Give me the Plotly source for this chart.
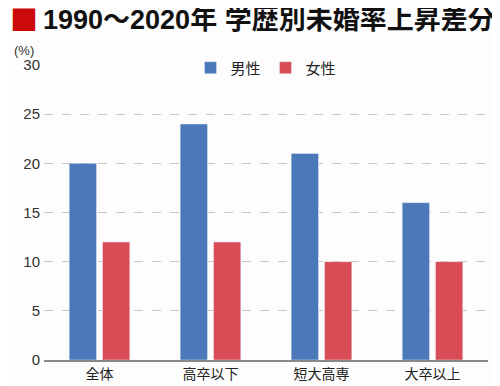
import plotly.graph_objects as go

categories = ["全体", "高卒以下", "短大高専", "大卒以上"]
male = [20, 24, 21, 16]
female = [12, 12, 10, 10]
yticks = [0, 5, 10, 15, 20, 25, 30]

bg = "#fdfdfd"
font = "Liberation Sans, Noto Sans CJK JP"

fig = go.Figure()
fig.add_trace(go.Bar(x=categories, y=male, name="男性", marker_color="#4a78b8"))
fig.add_trace(go.Bar(x=categories, y=female, name="女性", marker_color="#d94b55"))

fig.update_layout(
    width=492, height=378,
    paper_bgcolor=bg, plot_bgcolor=bg,
    margin=dict(l=36, r=12, t=57, b=26, autoexpand=False),
    font=dict(family=font, color="#222", size=13),
    bargap=0.4, bargroupgap=0.18,
    showlegend=True,
    legend=dict(orientation="h", x=0.5, xanchor="center", y=0.99, yanchor="middle",
                bgcolor=bg, font=dict(size=15, family=font, color="#222"),
                itemwidth=30, traceorder="normal"),
    xaxis=dict(showline=True, linecolor="#888", linewidth=1.5, ticks="",
               tickfont=dict(size=14, family=font, color="#222")),
    yaxis=dict(range=[0, 30], tickvals=yticks, showgrid=True, gridcolor="#c8c8c8",
               griddash="dash", gridwidth=1, zeroline=False, ticks="",
               tickfont=dict(size=15, family="Liberation Sans", color="#333"),
               ticklabelstandoff=3),
)

fig.add_annotation(
    text="■", xref="paper", yref="paper", x=-0.046, y=1.0, xanchor="center",
    yanchor="middle", yshift=46, showarrow=False,
    font=dict(size=28, family="Noto Sans CJK JP", color="#cc0a0a"))
fig.add_annotation(
    text="1990～2020年 学歴別未婚率上昇差分",
    xref="paper", yref="paper", x=-0.006, y=1.0, xanchor="left", yanchor="middle",
    yshift=45, showarrow=False,
    font=dict(size=27, family=font, color="#111", weight="bold"))
fig.add_annotation(
    text="(%)", xref="paper", yref="paper", x=-0.072, y=1.0, xanchor="left",
    yanchor="middle", yshift=15, showarrow=False,
    font=dict(size=13, family="Liberation Sans", color="#333"))

fig.write_html("out.html")
